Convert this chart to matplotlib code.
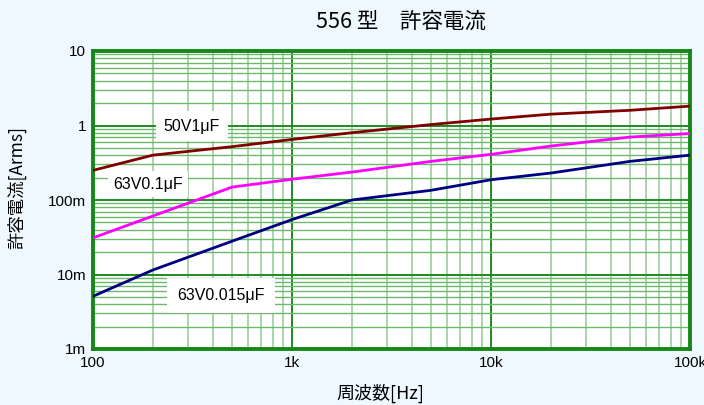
import matplotlib
matplotlib.use("Agg")
import matplotlib.pyplot as plt
from matplotlib.ticker import LogLocator, FixedLocator, FixedFormatter, NullFormatter

plt.rcParams['font.family'] = ['Liberation Sans', 'Noto Sans CJK JP', 'DejaVu Sans']

# Frequency points [Hz]
freq = [100, 200, 500, 1e3, 2e3, 5e3, 1e4, 2e4, 5e4, 1e5]

# Permissible ripple current [Arms]
cur_50v1u = [0.25, 0.40, 0.52, 0.65, 0.80, 1.03, 1.22, 1.42, 1.60, 1.82]
cur_63v01u = [0.031, 0.061, 0.149, 0.19, 0.237, 0.33, 0.41, 0.53, 0.70, 0.78]
cur_63v0015u = [0.0051, 0.0115, 0.028, 0.0546, 0.10, 0.135, 0.187, 0.23, 0.33, 0.40]

series_labels = ["50V1μF", "63V0.1μF", "63V0.015μF"]
series_colors = ["#800000", "#ff00ff", "#000080"]

x_ticks = [100, 1e3, 1e4, 1e5]
x_ticklabels = ["100", "1k", "10k", "100k"]
y_ticks = [1e-3, 1e-2, 1e-1, 1, 10]
y_ticklabels = ["1m", "10m", "100m", "1", "10"]

fig = plt.figure(figsize=(7.04, 4.05), dpi=100, facecolor="#f0f8ff")
ax = fig.add_axes([93/704, 1-349/405, (690-93)/704, (349-51)/405])
ax.set_facecolor("white")
ax.set_xscale("log")
ax.set_yscale("log")
ax.set_xlim(100, 1e5)
ax.set_ylim(1e-3, 10)

ax.xaxis.set_major_locator(FixedLocator(x_ticks))
ax.xaxis.set_major_formatter(FixedFormatter(x_ticklabels))
ax.yaxis.set_major_locator(FixedLocator(y_ticks))
ax.yaxis.set_major_formatter(FixedFormatter(y_ticklabels))
ax.xaxis.set_minor_locator(LogLocator(base=10, subs=range(2, 10), numticks=20))
ax.yaxis.set_minor_locator(LogLocator(base=10, subs=range(2, 10), numticks=20))
ax.xaxis.set_minor_formatter(NullFormatter())
ax.yaxis.set_minor_formatter(NullFormatter())

ax.xaxis.grid(True, which="minor", color="#a6d2a6", linewidth=1.3)
ax.yaxis.grid(True, which="minor", color="#6cb86c", linewidth=1.0)
ax.grid(True, which="major", color="#1e8c1e", linewidth=1.4)
ax.set_axisbelow(True)
ax.tick_params(which="both", length=0, labelsize=11, pad=5)

for sp in ax.spines.values():
    sp.set_color("#168816")
    sp.set_linewidth(2.8)

for y, c in zip([cur_50v1u, cur_63v01u, cur_63v0015u], series_colors):
    ax.plot(freq, y, color=c, linewidth=2.0, zorder=3)

# Series name boxes placed on the grid
lbl_font = ['Liberation Sans', 'DejaVu Sans']
ax.text(192/704, 1-126/405, series_labels[0], transform=fig.transFigure,
        ha="center", va="center", fontsize=11.5, zorder=4, family=lbl_font,
        bbox=dict(boxstyle="square,pad=0.5", facecolor="white", edgecolor="none"))
ax.text(148/704, 1-184/405, series_labels[1], transform=fig.transFigure,
        ha="center", va="center", fontsize=11.5, zorder=4, family=lbl_font,
        bbox=dict(boxstyle="square,pad=0.35", facecolor="white", edgecolor="none"))
ax.text(221/704, 1-295.5/405, series_labels[2], transform=fig.transFigure,
        ha="center", va="center", fontsize=11.5, zorder=4, family=lbl_font,
        bbox=dict(boxstyle="square,pad=0.65", facecolor="white", edgecolor="none"))

fig.text(401/704, 1-22/405, "556 型\u3000許容電流", ha="center", va="center",
         fontsize=15.5, family=['Noto Sans CJK JP'])
fig.text(380/704, 1-393/405, "周波数[Hz]", ha="center", va="center",
         fontsize=13, family=['Noto Sans CJK JP'])
fig.text(17/704, 1-188/405, "許容電流[Arms]", ha="center", va="center",
         rotation=90, fontsize=12.5, family=['Noto Sans CJK JP'])

fig.savefig("out.png", dpi=100, facecolor=fig.get_facecolor())
